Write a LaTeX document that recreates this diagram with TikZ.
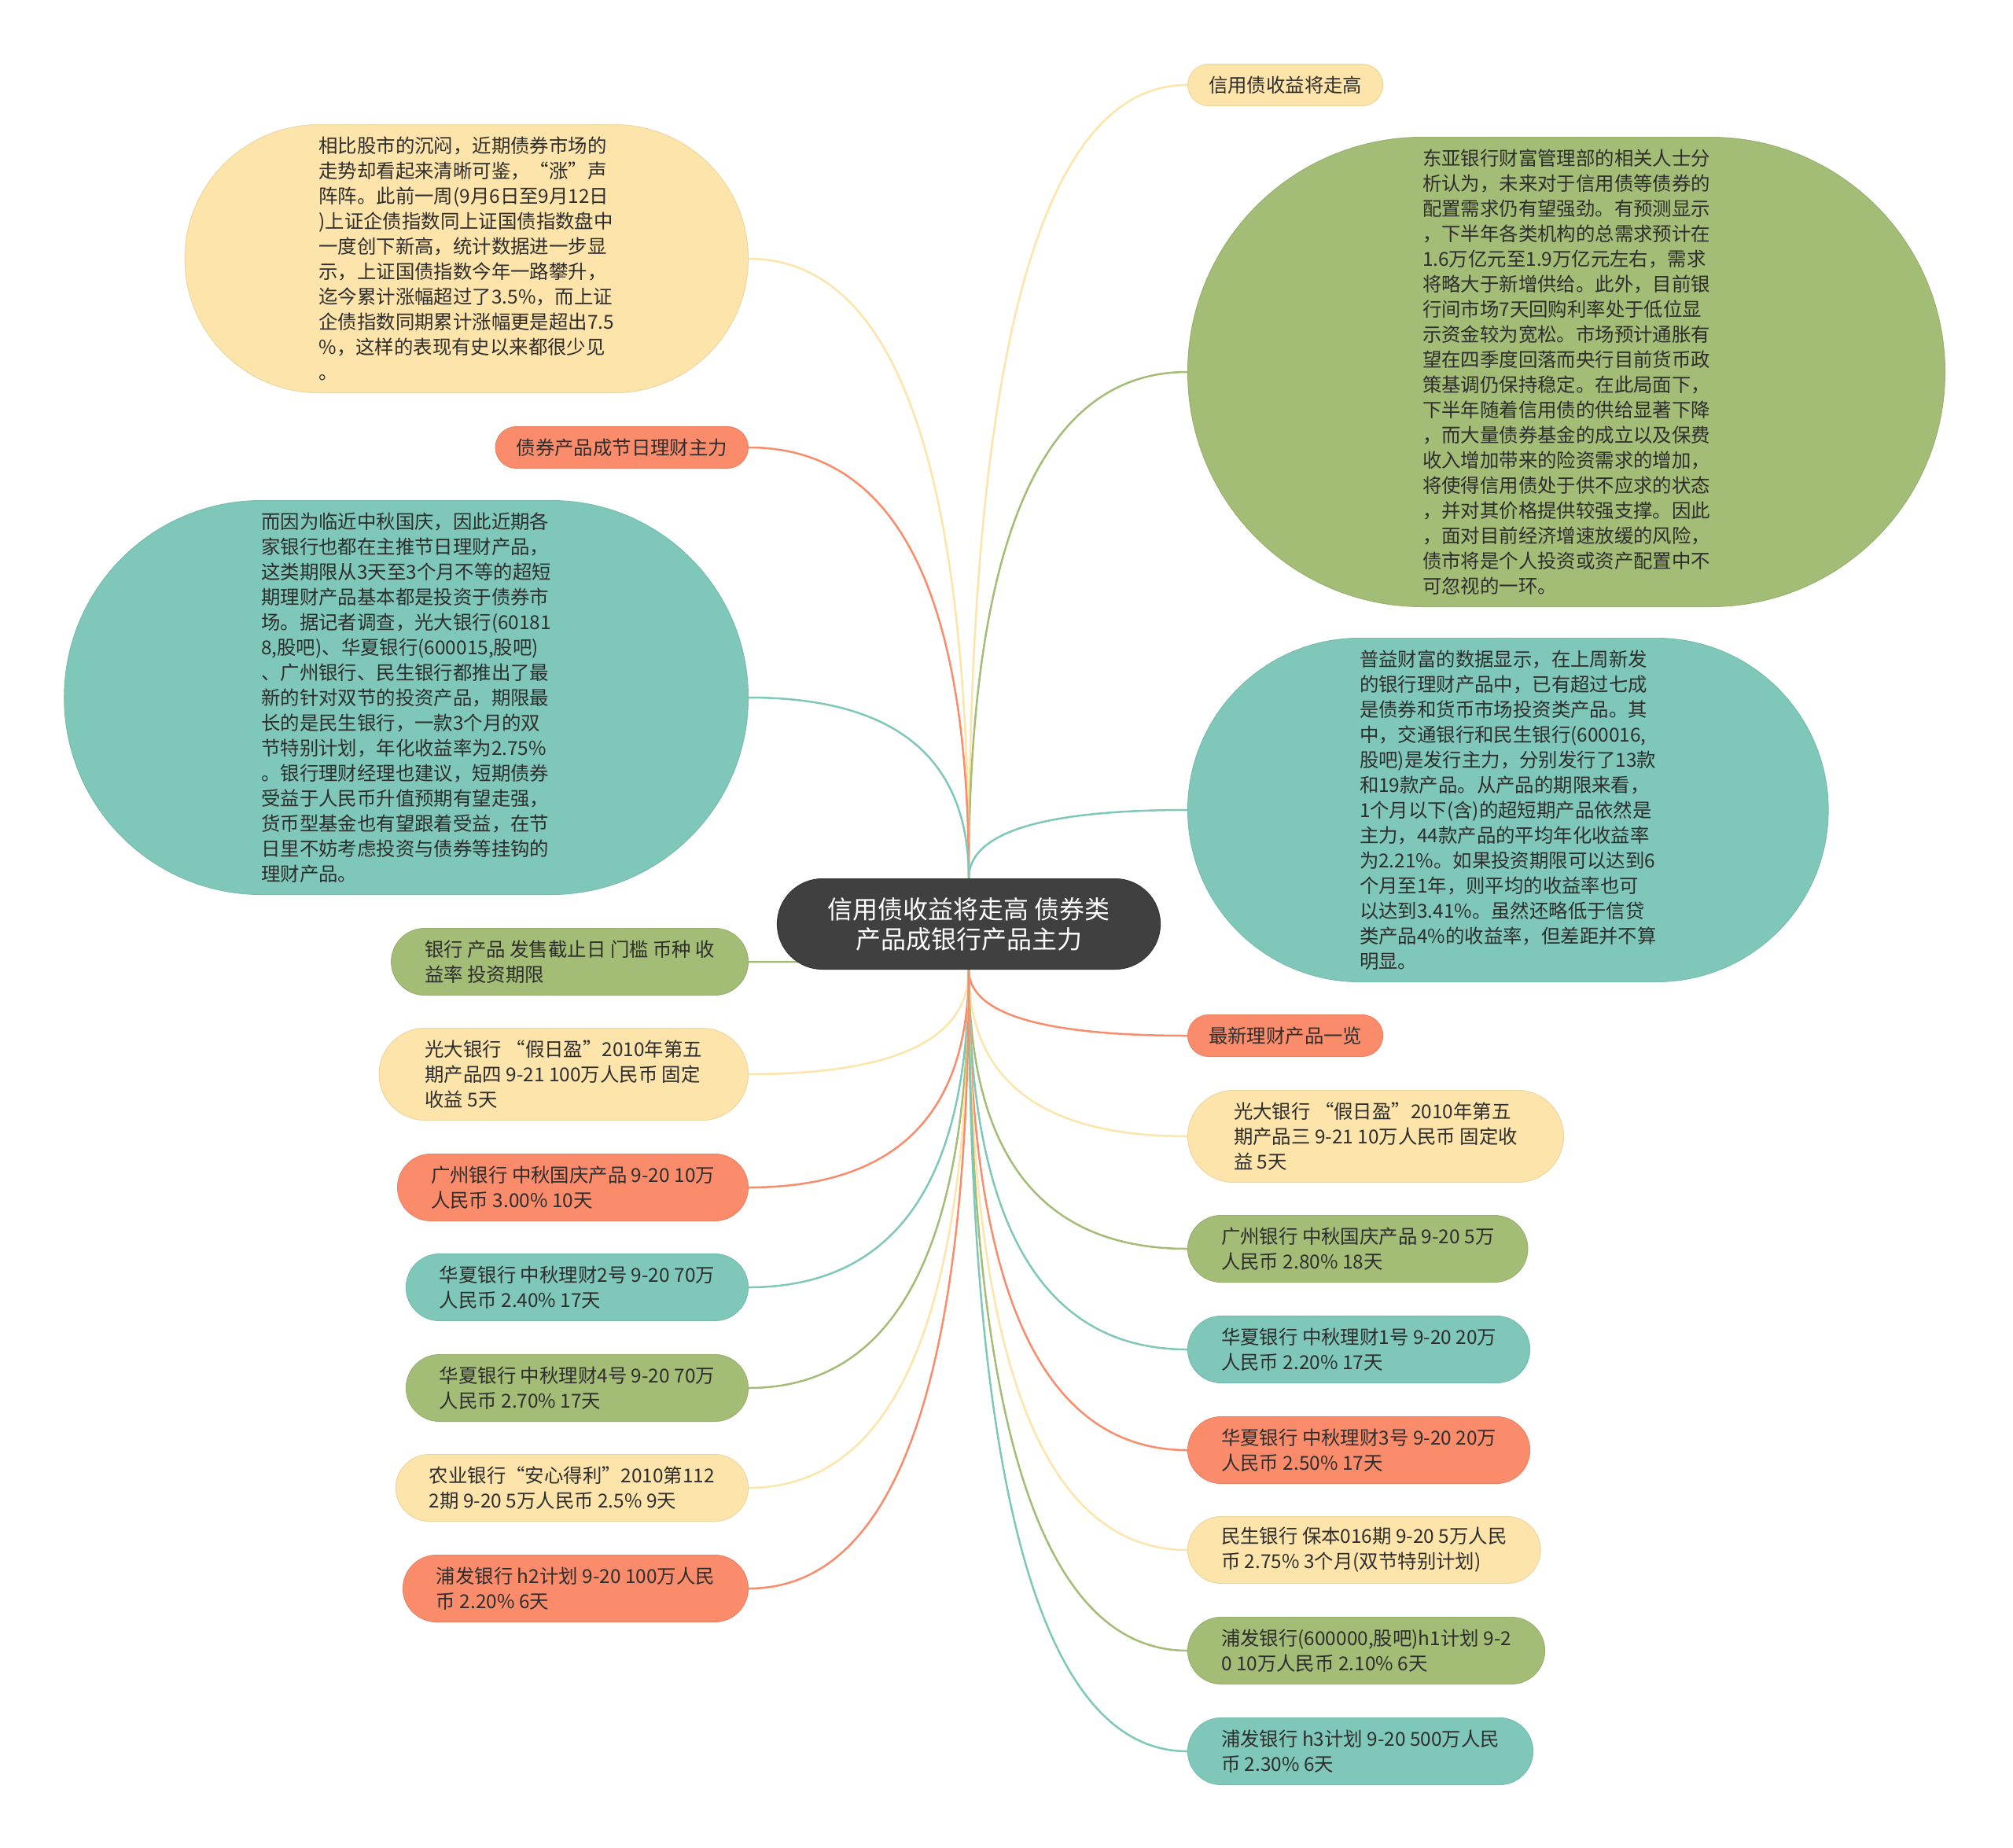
\documentclass[tikz,border=0pt]{standalone}
\usepackage{fontspec}
\setmainfont{Noto Sans CJK SC}
\usetikzlibrary{calc}

\definecolor{cyel}{HTML}{FDE4AA}
\definecolor{cgrn}{HTML}{A3BC76}
\definecolor{ctea}{HTML}{7FC8B9}
\definecolor{csal}{HTML}{FA8C6C}
\definecolor{cdark}{HTML}{404040}
\definecolor{ctext}{HTML}{2E2E2E}

\pgfdeclarelayer{bg}
\pgfsetlayers{bg,main}

\tikzset{
	bub/.style={rectangle, inner ysep=4pt, align=left, text=ctext, line width=1pt, font=\fontsize{24.4}{32}\selectfont},
	rows/.style={minimum height={32pt*#1+21pt}, inner xsep={16pt*#1+10.5pt}, rounded corners={16pt*#1+10.5pt}},
	yel/.style={fill=cyel, draw=cyel!94!black},
	grn/.style={fill=cgrn, draw=cgrn!94!black},
	tea/.style={fill=ctea, draw=ctea!94!black},
	sal/.style={fill=csal, draw=csal!94!black},
	root/.style={rectangle, rounded corners=57.5pt, fill=cdark, draw=cdark!80!black, line width=1pt, text=white, align=center, inner xsep=64pt, minimum height=115pt, font=\fontsize{32}{38}\selectfont},
	link/.style={line width=2.5pt},
}

% curved branch from the root to a child: #1 colour, #2 start, #3 end
\newcommand{\branch}[3]{%
	\draw[link, #1] (#2) .. controls ($(#2)!0.667!(#2 |- #3)$) and ($(#3)!0.667!(#2 |- #3)$) .. (#3);}

\begin{document}
\begin{tikzpicture}[x=1pt, y=-1pt]
	% Canvas of the reference picture
	\def\picW{2560}
	\def\picH{2350}
	\def\leftX{952}
	\def\rightX{1510}
	\useasboundingbox (0,0) rectangle (\picW,\picH);
	
	% Root topic in the middle
	\node[root] (root) at (1232,1175) {信用债收益将走高 债券类\\产品成银行产品主力};
	
	% Right hand branches
	\node[bub, yel, rows=1, anchor=west] (r1) at (\rightX,108) {信用债收益将走高};
	\node[bub, grn, rows=18, anchor=west] (r2) at (\rightX,473) {东亚银行财富管理部的相关人士分\\析认为，未来对于信用债等债券的\\配置需求仍有望强劲。有预测显示\\，下半年各类机构的总需求预计在\\1.6万亿元至1.9万亿元左右，需求\\将略大于新增供给。此外，目前银\\行间市场7天回购利率处于低位显\\示资金较为宽松。市场预计通胀有\\望在四季度回落而央行目前货币政\\策基调仍保持稳定。在此局面下，\\下半年随着信用债的供给显著下降\\，而大量债券基金的成立以及保费\\收入增加带来的险资需求的增加，\\将使得信用债处于供不应求的状态\\，并对其价格提供较强支撑。因此\\，面对目前经济增速放缓的风险，\\债市将是个人投资或资产配置中不\\可忽视的一环。};
	\node[bub, tea, rows=13, anchor=west] (r3) at (\rightX,1030) {普益财富的数据显示，在上周新发\\的银行理财产品中，已有超过七成\\是债券和货币市场投资类产品。其\\中，交通银行和民生银行(600016,\\股吧)是发行主力，分别发行了13款\\和19款产品。从产品的期限来看，\\1个月以下(含)的超短期产品依然是\\主力，44款产品的平均年化收益率\\为2.21\%。如果投资期限可以达到6\\个月至1年，则平均的收益率也可\\以达到3.41\%。虽然还略低于信贷\\类产品4\%的收益率，但差距并不算\\明显。};
	\node[bub, sal, rows=1, anchor=west] (r4) at (\rightX,1317) {最新理财产品一览};
	\node[bub, yel, rows=3, anchor=west] (r5) at (\rightX,1445) {光大银行 “假日盈”2010年第五\\期产品三 9-21 10万人民币 固定收\\益 5天};
	\node[bub, grn, rows=2, anchor=west] (r6) at (\rightX,1588) {广州银行 中秋国庆产品 9-20 5万\\人民币 2.80\% 18天};
	\node[bub, tea, rows=2, anchor=west] (r7) at (\rightX,1716) {华夏银行 中秋理财1号 9-20 20万\\人民币 2.20\% 17天};
	\node[bub, sal, rows=2, anchor=west] (r8) at (\rightX,1844) {华夏银行 中秋理财3号 9-20 20万\\人民币 2.50\% 17天};
	\node[bub, yel, rows=2, anchor=west] (r9) at (\rightX,1971) {民生银行 保本016期 9-20 5万人民\\币 2.75\% 3个月(双节特别计划)};
	\node[bub, grn, rows=2, anchor=west] (r10) at (\rightX,2099) {浦发银行(600000,股吧)h1计划 9-2\\0 10万人民币 2.10\% 6天};
	\node[bub, tea, rows=2, anchor=west] (r11) at (\rightX,2227) {浦发银行 h3计划 9-20 500万人民\\币 2.30\% 6天};
	
	% Left hand branches
	\node[bub, yel, rows=10, anchor=east] (l1) at (\leftX,329) {相比股市的沉闷，近期债券市场的\\走势却看起来清晰可鉴，“涨”声\\阵阵。此前一周(9月6日至9月12日\\)上证企债指数同上证国债指数盘中\\一度创下新高，统计数据进一步显\\示，上证国债指数今年一路攀升，\\迄今累计涨幅超过了3.5\%，而上证\\企债指数同期累计涨幅更是超出7.5\\\%，这样的表现有史以来都很少见\\。};
	\node[bub, sal, rows=1, anchor=east] (l2) at (\leftX,569) {债券产品成节日理财主力};
	\node[bub, tea, rows=15, anchor=east] (l3) at (\leftX,887) {而因为临近中秋国庆，因此近期各\\家银行也都在主推节日理财产品，\\这类期限从3天至3个月不等的超短\\期理财产品基本都是投资于债券市\\场。据记者调查，光大银行(60181\\8,股吧)、华夏银行(600015,股吧)\\、广州银行、民生银行都推出了最\\新的针对双节的投资产品，期限最\\长的是民生银行，一款3个月的双\\节特别计划，年化收益率为2.75\%\\。银行理财经理也建议，短期债券\\受益于人民币升值预期有望走强，\\货币型基金也有望跟着受益，在节\\日里不妨考虑投资与债券等挂钩的\\理财产品。};
	\node[bub, grn, rows=2, anchor=east] (l4) at (\leftX,1223) {银行 产品 发售截止日 门槛 币种 收\\益率 投资期限};
	\node[bub, yel, rows=3, anchor=east] (l5) at (\leftX,1366) {光大银行 “假日盈”2010年第五\\期产品四 9-21 100万人民币 固定\\收益 5天};
	\node[bub, sal, rows=2, anchor=east] (l6) at (\leftX,1510) {广州银行 中秋国庆产品 9-20 10万\\人民币 3.00\% 10天};
	\node[bub, tea, rows=2, anchor=east] (l7) at (\leftX,1637) {华夏银行 中秋理财2号 9-20 70万\\人民币 2.40\% 17天};
	\node[bub, grn, rows=2, anchor=east] (l8) at (\leftX,1765) {华夏银行 中秋理财4号 9-20 70万\\人民币 2.70\% 17天};
	\node[bub, yel, rows=2, anchor=east] (l9) at (\leftX,1892) {农业银行“安心得利”2010第112\\2期 9-20 5万人民币 2.5\% 9天};
	\node[bub, sal, rows=2, anchor=east] (l10) at (\leftX,2020) {浦发银行 h2计划 9-20 100万人民\\币 2.20\% 6天};
	
	% Branch lines behind the nodes
	\begin{pgfonlayer}{bg}
		% upper children leave from the top of the root
		\branch{cyel}{root.north}{r1.west}
		\branch{cgrn}{root.north}{r2.west}
		\branch{ctea}{root.north}{r3.west}
		\branch{cyel}{root.north}{l1.east}
		\branch{csal}{root.north}{l2.east}
		\branch{ctea}{root.north}{l3.east}
		% lower children leave from the bottom of the root
		\branch{csal}{root.south}{r4.west}
		\branch{cyel}{root.south}{r5.west}
		\branch{cgrn}{root.south}{r6.west}
		\branch{ctea}{root.south}{r7.west}
		\branch{csal}{root.south}{r8.west}
		\branch{cyel}{root.south}{r9.west}
		\branch{cgrn}{root.south}{r10.west}
		\branch{ctea}{root.south}{r11.west}
		\branch{cgrn}{root.south}{l4.east}
		\branch{cyel}{root.south}{l5.east}
		\branch{csal}{root.south}{l6.east}
		\branch{ctea}{root.south}{l7.east}
		\branch{cgrn}{root.south}{l8.east}
		\branch{cyel}{root.south}{l9.east}
		\branch{csal}{root.south}{l10.east}
	\end{pgfonlayer}
\end{tikzpicture}
\end{document}
